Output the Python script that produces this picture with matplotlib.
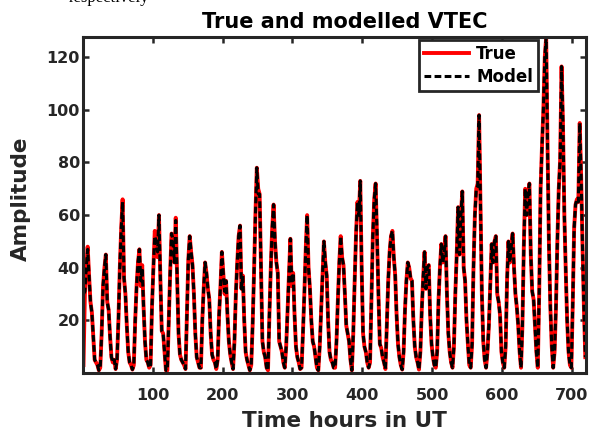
#!/usr/bin/env python3
"""Plot true and modelled VTEC over one month of hourly samples."""

import matplotlib

matplotlib.use("Agg")
import matplotlib.pyplot as plt
import numpy as np

# sample times (hours in UT), one value every two hours
hours = np.arange(1, 720, 2)

# true VTEC, one row per day (12 two-hour samples)
true_vtec = [
    3, 30, 40, 48, 37, 27, 23, 14, 5, 4, 3, 1,
    2, 15, 33, 40, 45, 27, 24, 14, 6, 4, 5, 1.5,
    5, 20, 40, 55, 66, 36, 30, 18, 8, 4, 3, 1.3,
    3, 20, 33, 42, 47, 33, 41, 25, 12, 5, 4, 2,
    3, 25, 40, 54, 50, 44, 60, 36, 16, 15, 8, 1,
    1, 20, 38, 53, 52, 42, 59, 36, 15, 7, 5, 4,
    3, 1.5, 22, 43, 52, 46, 41, 30, 15, 6, 4, 2,
    2, 20, 32, 42, 38, 32, 28, 15, 7, 5, 4, 1.5,
    5, 22, 33, 46, 38, 30, 35, 22, 12, 7, 4, 1.5,
    12, 30, 42, 52, 56, 32, 37, 20, 8, 5, 3, 1,
    3, 18, 38, 60, 78, 70, 68, 40, 12, 8, 6, 2,
    1, 22, 40, 55, 64, 50, 42, 38, 12, 10, 8, 4,
    2, 10, 24, 38, 51, 33, 38, 22, 10, 6, 4, 1.5,
    2, 15, 30, 47, 60, 40, 32, 20, 12, 10, 6, 2,
    1, 10, 24, 37, 50, 42, 37, 20, 8, 5, 4, 2,
    2, 12, 28, 42, 52, 44, 41, 30, 18, 15, 12, 5,
    1, 15, 35, 53, 65, 60, 73, 40, 15, 10, 8, 4,
    2, 4, 28, 52, 66, 72, 51, 30, 11, 9.5, 6, 4,
    1.5, 18, 35, 46, 52, 54, 44, 37, 22, 11, 6, 3,
    1.3, 8, 24, 35, 42, 40, 36, 35, 20, 10, 6, 4,
    1.3, 8, 24, 36, 46, 32, 40, 41, 22, 11, 6, 3,
    2, 8, 28, 40, 49, 42, 45, 52, 30, 15, 8, 4,
    2, 10, 30, 45, 63, 45, 60, 69, 40, 35, 20, 11,
    3, 2, 11, 40, 60, 70, 72, 98, 63, 30, 12, 5,
    2, 8, 18, 33, 49, 42, 50, 52, 30, 27, 22, 8,
    4, 2, 10, 35, 50, 42, 48, 53, 40, 30, 25, 18,
    8, 2, 18, 48, 70, 60, 68, 72, 45, 31, 28, 18,
    8, 2, 30, 70, 86, 100, 120, 127.5, 85, 48, 25, 10,
    2, 8, 25, 50, 70, 81, 116.5, 95, 60, 39, 20, 8,
    3, 2, 26, 55, 64, 66, 65, 95, 75, 48, 25, 6,
]

# modelled VTEC, same layout
model_vtec = [
    30, 31, 40, 47, 37, 27, 23, 14, 5, 4, 3, 1,
    2, 15, 33, 40, 45, 27, 24, 14, 6, 4, 5, 1.5,
    5, 20, 40, 55, 65, 36, 30, 18, 8, 4, 3, 1.3,
    3, 20, 33, 42, 47, 35, 40, 25, 12, 5, 4, 2,
    3, 25, 40, 52, 50, 46, 60, 36, 16, 15, 8, 1,
    1, 20, 38, 53, 51, 42, 58, 36, 15, 7, 5, 4,
    3, 1.5, 22, 43, 52, 46, 41, 30, 15, 6, 4, 2,
    2, 20, 32, 42, 38, 32, 28, 15, 7, 5, 4, 1.5,
    5, 22, 33, 46, 38, 31, 35, 22, 12, 7, 4, 1.5,
    12, 30, 42, 52, 56, 32, 37, 20, 8, 5, 3, 1,
    3, 18, 38, 60, 78, 68, 68, 40, 12, 8, 6, 2,
    1, 22, 40, 55, 64, 50, 42, 38, 12, 10, 8, 4,
    2, 10, 24, 38, 51, 34, 38, 22, 10, 6, 4, 1.5,
    2, 15, 30, 47, 60, 40, 32, 20, 12, 10, 6, 2,
    1, 10, 24, 37, 50, 42, 37, 20, 8, 5, 4, 2,
    2, 12, 28, 42, 52, 44, 41, 30, 18, 15, 12, 5,
    1, 15, 35, 53, 65, 60, 73, 40, 15, 10, 8, 4,
    2, 4, 28, 52, 66, 72, 53, 30, 11, 9.5, 6, 4,
    1.5, 18, 35, 46, 52, 54, 44, 37, 22, 11, 6, 3,
    1.3, 8, 24, 35, 42, 40, 36, 35, 20, 10, 6, 4,
    1.3, 8, 24, 36, 46, 32, 40, 41, 22, 11, 6, 3,
    2, 8, 28, 40, 49, 42, 45, 52, 30, 15, 8, 4,
    2, 10, 30, 45, 63, 45, 60, 69, 40, 35, 20, 11,
    3, 2, 11, 40, 60, 70, 71, 98, 63, 30, 12, 5,
    2, 8, 18, 33, 49, 42, 50, 52, 30, 27, 22, 8,
    4, 2, 10, 35, 50, 42, 48, 53, 40, 30, 25, 18,
    8, 2, 18, 48, 70, 60, 68, 72, 45, 31, 28, 18,
    8, 2, 30, 70, 86, 100, 120, 127.5, 85, 48, 25, 10,
    2, 8, 25, 50, 70, 81, 116.5, 95, 60, 39, 20, 8,
    3, 2, 26, 55, 64, 66, 65, 95, 75, 48, 25, 6,
]

x_ticks = [100, 200, 300, 400, 500, 600, 700]
y_ticks = [20, 40, 60, 80, 100, 120]

AXIS_COLOR = "#262626"

plt.rcParams["font.family"] = ["DejaVu Sans"]
plt.rcParams["font.weight"] = "bold"

fig = plt.figure(figsize=(5.95, 4.32), dpi=100)
ax = fig.add_axes([0.1403, 0.1366, 0.8446, 0.7766])

ax.plot(hours, true_vtec, color="#ff0000", linewidth=2.8, label="True")
ax.plot(hours, model_vtec, color="black", linewidth=2.2, linestyle=(0, (2.2, 1.1)), label="Model")

ax.set_xlim(1, 720)
ax.set_ylim(0, max(true_vtec))
ax.set_xticks(x_ticks)
ax.set_yticks(y_ticks)

for spine in ax.spines.values():
    spine.set_linewidth(2.2)
    spine.set_color(AXIS_COLOR)
ax.tick_params(axis="both", which="both", direction="in", length=4, width=1.8,
               colors=AXIS_COLOR, labelsize=11.5, top=True, right=True)
ax.tick_params(axis="x", pad=11)
ax.tick_params(axis="y", pad=2.5)

ax.set_title("True and modelled VTEC", fontsize=15, fontweight="bold", pad=6.5, x=0.52)
ax.set_xlabel("Time hours in UT", fontsize=15.5, fontweight="bold", color=AXIS_COLOR)
ax.set_ylabel("Amplitude", fontsize=15.5, fontweight="bold", color=AXIS_COLOR)
ax.xaxis.set_label_coords(0.52, -0.112)
ax.yaxis.set_label_coords(-0.105, 0.52)

leg = ax.legend(loc="upper right", bbox_to_anchor=(0.9045, 0.9925), borderaxespad=0,
                fontsize=12, handlelength=2.65, handletextpad=0.45, labelspacing=0.28,
                borderpad=0.3, fancybox=False, framealpha=1)
leg.get_frame().set_edgecolor(AXIS_COLOR)
leg.get_frame().set_linewidth(2.0)

# bottom edge of the surrounding document text, clipped by the crop
fig.text(0.115, 1 - 2 / 432, "respectively", family="Liberation Serif", fontweight="normal",
         fontsize=12, va="baseline")

fig.savefig("out.png", dpi=100)
